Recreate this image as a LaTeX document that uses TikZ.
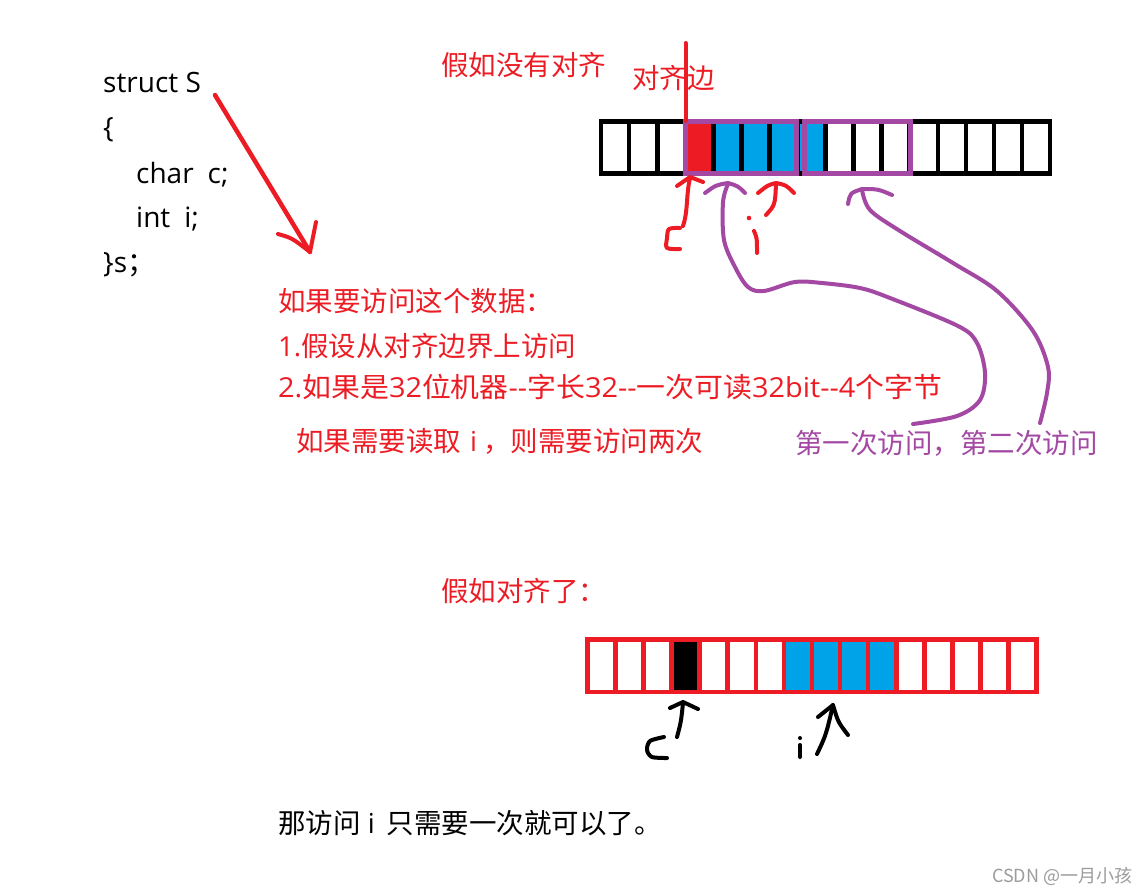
\documentclass[tikz,border=0pt]{standalone}
\usepackage{fontspec}
\setmainfont{Open Sans}
\newfontfamily\cjk{Noto Sans CJK SC}
\newfontfamily\latn{Open Sans}
\newcommand\lat[1]{{\latn #1}}
\definecolor{pred}{HTML}{ED1C24}
\definecolor{pblue}{HTML}{00A2E8}
\definecolor{ppurple}{HTML}{A349A4}
\definecolor{wmgray}{HTML}{9C9C9C}
\begin{document}
\begin{tikzpicture}[x=1pt,y=-1pt,
  zh/.style={font=\cjk\fontsize{27.5}{30}\selectfont, inner sep=0pt, anchor=west},
  code/.style={font=\fontsize{28}{30}\selectfont, inner sep=0pt, anchor=base west},
  pen/.style={line width=4pt, line cap=round, line join=round},
  cellline/.style={line width=4.7pt},
  boxline/.style={line width=5pt, draw=ppurple},
]
\useasboundingbox (0,0) rectangle (1147,895);
\fill[white] (0,0) rectangle (1147,895);

% ---- struct code ----
\node[code] (l1) at (103,92) {struct S};
\node[code] (l2) at (103,137) {\{};
\node[code] (l3) at (136,183) {char\hspace{14pt}c;};
\node[code] (l4) at (136,227) {int\hspace{14pt}i;};
\node[code] (l5) at (103,272) {\}s{\cjk ；}};

% red arrow from struct
\coordinate (sa) at (215,95);
\coordinate (sb) at (310,252);
\draw[pen, pred, line width=4.5pt] (sa) -- (sb);
\draw[pen, pred] (278,234) .. controls (292,238) .. (sb) -- (316,222);

% ---- top array (not aligned) ----
\def\tx#1{601+28.07*#1}
\fill[pred] ({\tx{3}},121.5) rectangle ({\tx{4}},173.5);
\fill[pblue] ({\tx{4}},121.5) rectangle ({\tx{8}},173.5);
\draw[cellline] (601,121.5) rectangle ({\tx{16}},173.5);
\foreach \k in {1,...,15} { \draw[cellline] ({\tx{\k}},121.5) -- ({\tx{\k}},173.5); }
\draw[boxline] (685.2,121.5) rectangle (796.5,173.5);
\draw[boxline] (804.5,121.5) rectangle (910.5,173.5);

% ---- bottom array (aligned) ----
\def\bx#1{587.5+28.06*#1}
\fill[black] ({\bx{3}},639.5) rectangle ({\bx{4}},692);
\fill[pblue] ({\bx{7}},639.5) rectangle ({\bx{11}},692);
\draw[cellline, draw=pred] (587.5,639.5) rectangle ({\bx{16}},692);
\foreach \k in {1,...,15} { \draw[cellline, draw=pred] ({\bx{\k}},639.5) -- ({\bx{\k}},692); }

% ---- texts ----
\node[zh, text=pred] (t1) at (441,65) {假如没有对齐};
\node[zh, text=pred] (t2) at (632,78) {对齐边};
\node[zh, text=pred] (t3) at (278,301) {如果要访问这个数据：};
\node[zh, text=pred] (t4) at (278,346) {\lat{1.}假设从对齐边界上访问};
\node[zh, text=pred] (t5) at (278,387) {\scalebox{1.05}[1]{\lat{2.}如果是\lat{32}位机器\lat{-{}-}字长\lat{32-{}-}一次可读\lat{32bit-{}-4}个字节}};
\node[zh, text=pred] (t6) at (296,441) {如果需要读取\lat{\hspace{9pt}i\hspace{6pt}}，则需要访问两次};
\node[zh, text=ppurple] (t7) at (795,443) {第一次访问，第二次访问};
\node[zh, text=pred] (t8) at (441,591) {假如对齐了：};
\node[zh] (t9) at (278,823) {那访问\lat{\ i\ \,}只需要一次就可以了。};
\node[font=\cjk\fontsize{18}{20}\selectfont, text=wmgray, inner sep=0pt, anchor=west] (wm) at (992,876) {CSDN @一月小孩};

% alignment edge line
\coordinate (ea) at (685.5,43);
\coordinate (eb) at (685.5,121);
\draw[pred, line width=4pt, line cap=round] (ea) -- (eb);

% ---- top handwriting ----
% c with arrow
\draw[pen, pred] (683,226) .. controls (688,212) and (686,195) .. (690,178);
\draw[pen, pred] (677,186) -- (690,177) -- (703,182);
\draw[pen, pred] plot[smooth] coordinates {(680,228) (669,229) (667,238) (667,248) (680,249)};
% i with arrow
\fill[pred] (749,218) circle (2.3pt);
\draw[pen, pred] (754,231) .. controls (757,238) .. (757,253);
\draw[pen, pred] (766,215) .. controls (775,205) .. (776,184);
\draw[pen, pred] (758,193) .. controls (768,185) .. (776,183) .. controls (786,185) .. (794,193);

% purple arrow 1 (first access)
\draw[pen, ppurple] plot[smooth, tension=0.55] coordinates {(728,184) (723,202) (724,240) (735,267) (748,287) (764,291) (795,282) (822,283) (860,288) (890,298) (958,326) (977,343) (985,373) (980,400) (957,416) (913,424)};
\draw[pen, ppurple] (705,193) .. controls (716,185) .. (728,183) .. controls (738,186) .. (745,193);
% purple arrow 2 (second access)
\draw[pen, ppurple] plot[smooth, tension=0.55] coordinates {(862,190) (870,210) (900,231) (953,263) (997,291) (1033,331) (1048,367) (1047,393) (1040,423)};
\draw[pen, ppurple] (848,204) .. controls (850,193) .. (862,189) .. controls (878,189) .. (892,195);

% ---- bottom handwriting ----
\draw[pen] plot[smooth] coordinates {(664,737) (650,741) (647,750) (652,757) (667,758)};
\draw[pen] (677,737) .. controls (681,722) .. (683,703);
\draw[pen] (670,708) -- (683,702) -- (698,709);
\fill (800,738) circle (2pt);
\draw[pen] (800,745) -- (800,757);
\draw[pen] (817,754) .. controls (826,735) .. (833,705);
\draw[pen] (818,717) -- (833,705) .. controls (838,722) .. (848,735);
\end{tikzpicture}
\end{document}
